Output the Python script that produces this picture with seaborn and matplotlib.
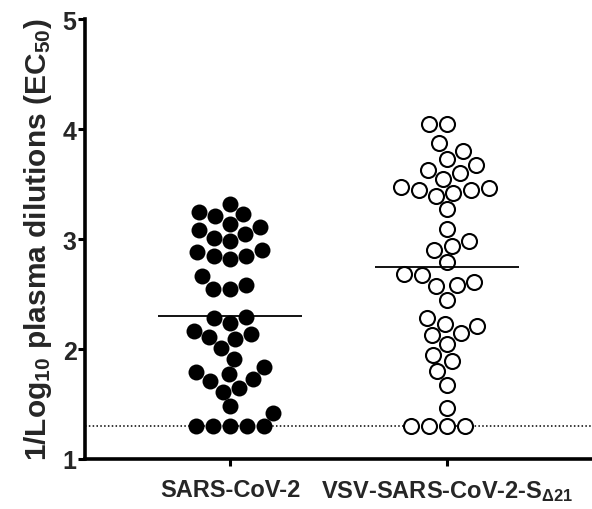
import numpy as np
import pandas as pd
import matplotlib
matplotlib.use("Agg")
import matplotlib.pyplot as plt
import seaborn as sns

groups = ["SARS-CoV-2", "VSV-SARS-CoV-2-S$_{\\Delta21}$"]

sars_values = [3.32, 3.23, 3.25, 3.21, 3.14, 3.11, 2.98, 3.01, 3.05, 3.08,
               2.85, 2.90, 2.82, 2.85, 2.88, 2.66, 2.55, 2.55, 2.58,
               2.24, 2.29, 2.28, 2.11, 2.09, 2.16, 2.14, 2.01, 1.84, 1.91,
               1.77, 1.71, 1.65, 1.73, 1.79, 1.61, 1.48, 1.42,
               1.30, 1.30, 1.30, 1.30, 1.30]
vsv_values = [4.05, 4.05, 3.87, 3.80, 3.73, 3.67, 3.55, 3.60, 3.63,
              3.47, 3.45, 3.45, 3.39, 3.42, 3.46, 3.27,
              3.09, 2.98, 2.94, 2.90, 2.79, 2.68, 2.67, 2.58, 2.57, 2.61, 2.45,
              2.23, 2.28, 2.21, 2.15, 2.05, 2.13, 1.95, 1.89, 1.80, 1.67, 1.46,
              1.30, 1.30, 1.30, 1.30]
detection_limit = 1.3
y_ticks = [1, 2, 3, 4, 5]

df = pd.DataFrame({
    "group": [groups[0]] * len(sars_values) + [groups[1]] * len(vsv_values),
    "value": sars_values + vsv_values,
})

sns.set_style("ticks")
plt.rcParams["font.family"] = ["Liberation Sans", "DejaVu Sans"]
plt.rcParams["font.weight"] = "bold"
plt.rcParams["mathtext.fontset"] = "custom"
plt.rcParams["mathtext.rm"] = "Liberation Sans:bold"
plt.rcParams["mathtext.bf"] = "Liberation Sans:bold"
plt.rcParams["mathtext.it"] = "Liberation Sans:bold"
plt.rcParams["mathtext.default"] = "bf"

fig = plt.figure(figsize=(5.92, 5.10), dpi=100)
ax = fig.add_axes([85 / 592, 50 / 510, 1 - 85 / 592, 440 / 510])
ax.set_ylim(1, 5)
ax.set_xlim(-0.668, 1.668)

sns.swarmplot(data=df[df.group == groups[0]], x="group", y="value", order=groups,
              color="black", size=11.5, ax=ax)
sns.swarmplot(data=df[df.group == groups[1]], x="group", y="value", order=groups,
              color="white", edgecolor="black", linewidth=1.5, size=10.8, ax=ax)

ax.set_ylim(1, 5)
ax.set_xlim(-0.668, 1.668)

means = df.groupby("group", sort=False)["value"].mean()
for i, g in enumerate(groups):
    ax.hlines(means[g], i - 0.33, i + 0.33, color="black", lw=1.3, zorder=5)

ax.axhline(detection_limit, color="black", ls=(0, (1, 1.5)), lw=1.1, zorder=0)

ax.set_yticks(y_ticks)
ax.set_yticklabels([str(t) for t in y_ticks], fontsize=18, fontweight="bold")
ax.set_xticks([0, 1])
ax.set_xticklabels(groups, fontsize=17, fontweight="bold")
ax.set_xlabel("")
ax.set_ylabel("1/Log$_{10}$ plasma dilutions (EC$_{50}$)", fontsize=21.5,
              fontweight="bold", labelpad=6)

for s in ["top", "right"]:
    ax.spines[s].set_visible(False)
for s in ["left", "bottom"]:
    ax.spines[s].set_linewidth(2.6)
    ax.spines[s].set_color("black")
ax.tick_params(axis="both", width=2.2, length=5, color="black", direction="out")
ax.tick_params(axis="y", pad=1)
ax.tick_params(axis="x", pad=9)

fig.savefig("out.png", dpi=100)
